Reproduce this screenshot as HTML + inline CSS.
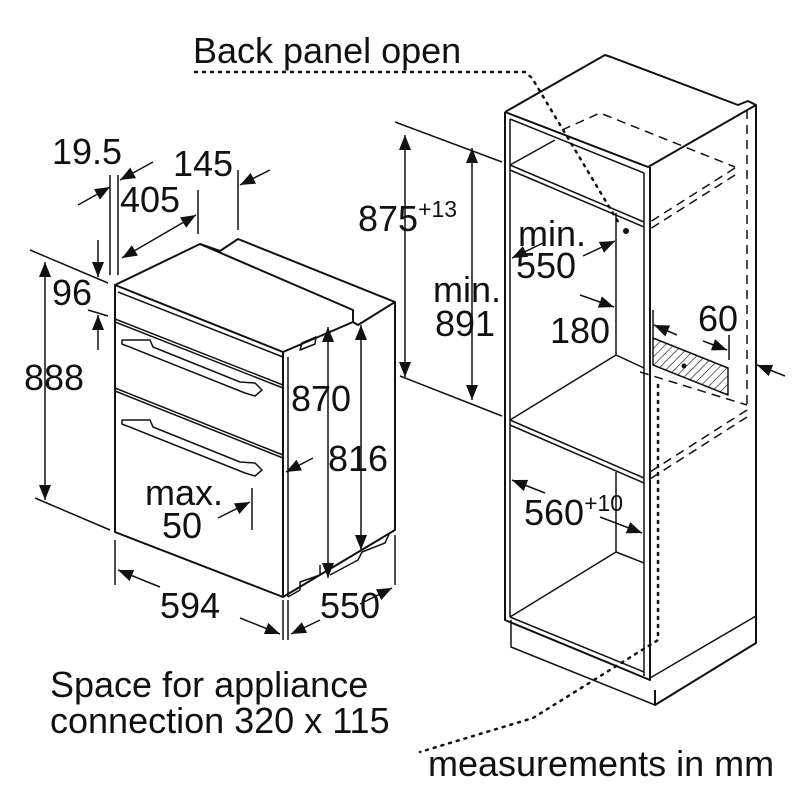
<!DOCTYPE html>
<html><head><meta charset="utf-8"><style>
html,body{margin:0;padding:0;background:#fff}
svg{display:block}
text{font-family:"Liberation Sans",Arial,sans-serif;fill:#111}
</style></head><body>
<svg width="800" height="800" viewBox="0 0 800 800" xmlns="http://www.w3.org/2000/svg">
<defs>
<marker id="a" viewBox="0 0 10 10" refX="10" refY="5" markerWidth="10" markerHeight="10" orient="auto-start-reverse"><path d="M0,1 L10,5 L0,9 z" fill="#111"/></marker>
<pattern id="h" width="6" height="6" patternUnits="userSpaceOnUse" patternTransform="rotate(45)"><line x1="0" y1="0" x2="0" y2="6" stroke="#111" stroke-width="1.2"/></pattern>
</defs>
<g stroke="#111" stroke-width="2" fill="none" stroke-linejoin="round">
<!-- OVEN -->
<path d="M115,285 L200,244 L220,251 L238,239 L395,302 L395,530 L283,597 L115,532 Z" fill="#fff"/>
<path d="M115,285 L283,352 L283,597"/>
<path d="M283,352 L353,322 L358,325 L395,302"/>
<path d="M200,244 L353,310 L353,322"/>
<path d="M118,292 L283,357" stroke-width="1.5"/>
<path d="M115,319 L283,385 M115,322 L283,388" stroke-width="1.5"/>
<path d="M115,388 L283,455 M115,391 L283,458" stroke-width="1.5"/>
<path d="M288,357 L288,597" stroke-width="1.5"/>
<path d="M122,340 L150,340 L153,347 L240,382 L255,383 L262,390 L255,396 L245,393 L122,344 Z" stroke-width="1.5"/>
<path d="M122,420 L150,420 L153,427 L240,462 L255,463 L262,470 L255,476 L245,473 L122,424 Z" stroke-width="1.5"/>
<path d="M300,350 L315,344 L316,337 L302,343 Z" stroke-width="1.5"/>
<path d="M288,597 L300,590 L300,582 L320,575 L320,565 M330,575 L358,560 L362,552 L385,543 L390,532" stroke-width="1.5"/>
<!-- oven dims -->
<path d="M110,175 L110,275 M118,175 L118,275" stroke-width="1.5"/>
<path d="M78,205 L110,187" marker-end="url(#a)" stroke-width="1.5"/>
<path d="M153,162 L120,180" marker-end="url(#a)" stroke-width="1.5"/>
<path d="M198,190 L198,234 M238,170 L238,230" stroke-width="1.5"/>
<path d="M122,258 L196,215" marker-start="url(#a)" marker-end="url(#a)" stroke-width="1.5"/>
<path d="M270,170 L240,185" marker-end="url(#a)" stroke-width="1.5"/>
<path d="M30,250 L108,283 M88,310 L108,316" stroke-width="1.5"/>
<path d="M98,240 L98,277" marker-end="url(#a)" stroke-width="1.5"/>
<path d="M98,350 L98,315" marker-end="url(#a)" stroke-width="1.5"/>
<path d="M45,262 L45,500" marker-start="url(#a)" marker-end="url(#a)" stroke-width="1.5"/>
<path d="M35,498 L110,530" stroke-width="1.5"/>
<path d="M328,327 L328,578" marker-start="url(#a)" marker-end="url(#a)" stroke-width="1.5"/>
<path d="M361,325 L361,550" marker-start="url(#a)" marker-end="url(#a)" stroke-width="1.5"/>
<path d="M313,458 L286,472" marker-end="url(#a)" stroke-width="1.5"/>
<path d="M252,488 L252,530" stroke-width="1.5"/>
<path d="M218,518 L250,502" marker-end="url(#a)" stroke-width="1.5"/>
<path d="M115,540 L115,585 M283,600 L283,640 M288,600 L288,640 M395,535 L395,585" stroke-width="1.5"/>
<path d="M160,587 L118,570" marker-end="url(#a)" stroke-width="1.5"/>
<path d="M240,618 L280,634" marker-end="url(#a)" stroke-width="1.5"/>
<path d="M320,620 L291,634" marker-end="url(#a)" stroke-width="1.5"/>
<path d="M360,604 L392,588" marker-end="url(#a)" stroke-width="1.5"/>
<!-- CABINET -->
<path d="M505,112 L605,55 L611,57 L738,105 L748,101 L756,105 L756,643 L655,705 L655,690"/>
<path d="M505,112 L648,167 L756,105"/>
<path d="M505,112 L505,620 L650,680 L650,167"/>
<path d="M510,119 L510,617 M644,173 L644,676" stroke-width="1.5"/>
<path d="M510,119 L644,173" stroke-width="1.5"/>
<path d="M510,165 L644,222 M510,170 L644,227" stroke-width="1.5"/>
<path d="M510,165 L555,140" stroke-width="1.5"/>
<path d="M616,213 L616,355 L510,420 M616,355 L644,368" stroke-width="1.5"/>
<path d="M510,420 L644,478 M510,425 L644,483" stroke-width="1.5"/>
<path d="M616,472 L616,552 L510,617 M616,552 L644,563" stroke-width="1.5"/>
<path d="M510,617 L644,672" stroke-width="1.5"/>
<path d="M511,620 L511,647 L655,705 M650,678 L756,616" stroke-width="1.5"/>
<g stroke-dasharray="9,6" stroke-width="1.5">
<path d="M562,130 L600,113 L735,167"/>
<path d="M735,168 L650,222 M735,175 L650,229"/>
<path d="M747,110 L747,405"/>
<path d="M640,372 L747,405"/>
<path d="M747,410 L650,472 M747,417 L650,479"/>
</g>
<path d="M653,338 L728,368 L728,395 L653,365 Z" fill="url(#h)" stroke-width="1.5"/>
<circle cx="626" cy="231" r="3" fill="#111" stroke="none"/>
<circle cx="684" cy="366" r="2.5" fill="#111" stroke="none"/>
<g stroke-dasharray="2,6" stroke-width="2.5" stroke-linecap="round">
<path d="M195,72 L525,72 L532,78 L620,225"/>
<path d="M658,385 L658,640 L533,718 L420,752"/>
</g>
<!-- cabinet dims -->
<path d="M395,122 L502,162 M400,376 L502,416" stroke-width="1.5"/>
<path d="M405,135 L405,377" marker-start="url(#a)" marker-end="url(#a)" stroke-width="1.5"/>
<path d="M472,148 L472,400" marker-start="url(#a)" marker-end="url(#a)" stroke-width="1.5"/>
<path d="M583,256 L615,241" marker-end="url(#a)" stroke-width="1.5"/>
<path d="M543,243 L512,258" marker-end="url(#a)" stroke-width="1.5"/>
<path d="M580,295 L614,307" marker-end="url(#a)" stroke-width="1.5"/>
<path d="M545,493 L512,480" marker-end="url(#a)" stroke-width="1.5"/>
<path d="M600,517 L642,533" marker-end="url(#a)" stroke-width="1.5"/>
<path d="M653,310 L653,340 M729,335 L729,360" stroke-width="1.5"/>
<path d="M677,335 L654,325" marker-end="url(#a)" stroke-width="1.5"/>
<path d="M703,341 L727,350" marker-end="url(#a)" stroke-width="1.5"/>
<path d="M785,376 L757,365" marker-end="url(#a)" stroke-width="1.5"/>
</g>
<g font-size="36">
<text x="193" y="63">Back panel open</text>
<text x="52" y="164">19.5</text>
<text x="173" y="176">145</text>
<text x="120" y="212">405</text>
<text x="52" y="305">96</text>
<text x="24" y="390">888</text>
<text x="291" y="411">870</text>
<text x="328" y="471">816</text>
<text x="145" y="505">max.</text>
<text x="162" y="538">50</text>
<text x="160" y="618">594</text>
<text x="320" y="618">550</text>
<text x="358" y="231">875<tspan font-size="23" dy="-14">+13</tspan></text>
<text x="433" y="302">min.</text>
<text x="435" y="336">891</text>
<text x="518" y="246">min.</text>
<text x="516" y="278">550</text>
<text x="550" y="343">180</text>
<text x="698" y="331">60</text>
<text x="524" y="525">560<tspan font-size="23" dy="-14">+10</tspan></text>
<text x="50" y="697">Space for appliance</text>
<text x="50" y="733">connection 320 x 115</text>
<text x="428" y="776">measurements in mm</text>
</g>
</svg>
</body></html>
